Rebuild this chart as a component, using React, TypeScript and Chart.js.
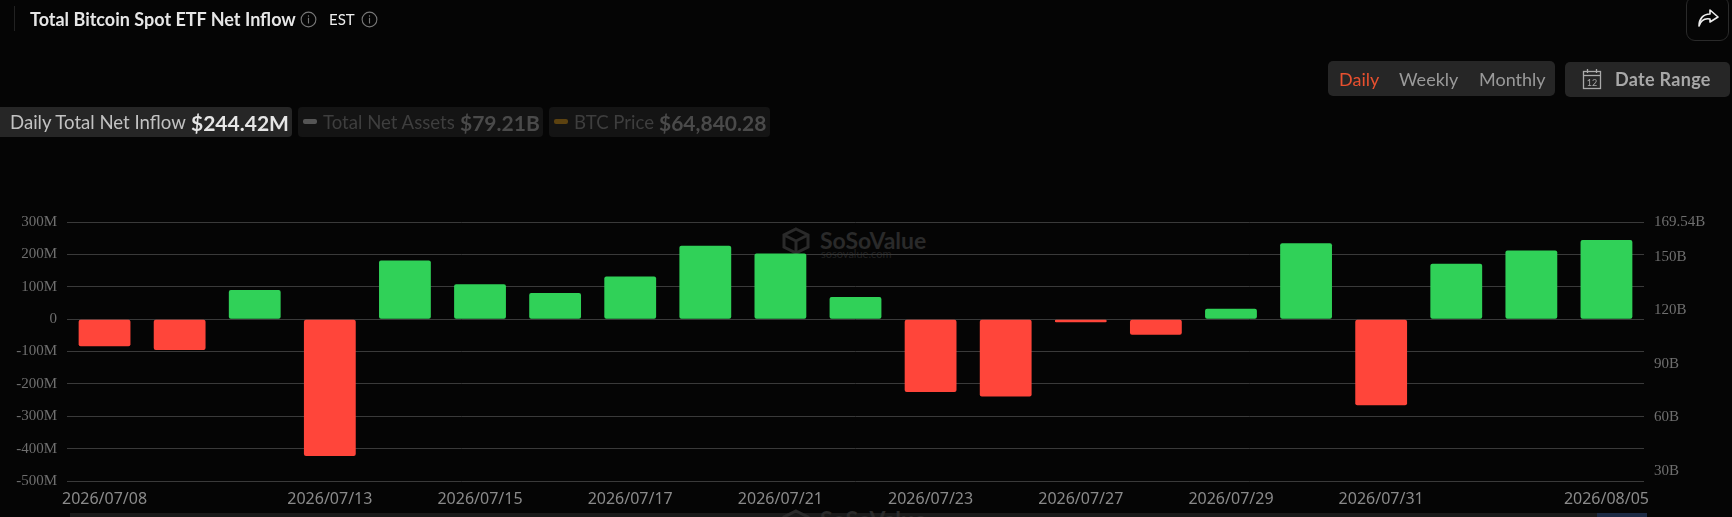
import React, { useEffect, useRef } from "react";
import { Chart, registerables } from "chart.js";

Chart.register(...registerables);

const categories = [
  "2026/07/08", "2026/07/09", "2026/07/10", "2026/07/13", "2026/07/14", "2026/07/15", "2026/07/16",
  "2026/07/17", "2026/07/20", "2026/07/21", "2026/07/22", "2026/07/23", "2026/07/24", "2026/07/27",
  "2026/07/28", "2026/07/29", "2026/07/30", "2026/07/31", "2026/08/03", "2026/08/04", "2026/08/05",
];
const netInflow = [-84, -95, 90, -423, 181, 108, 81, 132, 227, 203, 68, -225, -239, -10, -48, 32, 234, -266, 171, 212, 244.42];
const shownDates = [
  "2026/07/08", "2026/07/13", "2026/07/15", "2026/07/17", "2026/07/21",
  "2026/07/23", "2026/07/27", "2026/07/29", "2026/07/31", "2026/08/05",
];
const rightTicks = [30, 60, 90, 120, 150, 169.54];
const GREEN = "#30d158";
const RED = "#ff453a";

const abs = (s: React.CSSProperties): React.CSSProperties => ({ position: "absolute", whiteSpace: "nowrap", ...s });
const LATO = "Lato, sans-serif";

function Info({ x }: { x: number }) {
  return (
    <svg style={{ position: "absolute", left: x, top: 11 }} width="17" height="17" viewBox="0 0 15 15">
      <circle cx="7.5" cy="7.5" r="6.5" fill="none" stroke="#777" strokeWidth="1" />
      <rect x="7" y="6" width="1" height="5" fill="#777" />
      <rect x="7" y="3.8" width="1" height="1.2" fill="#777" />
    </svg>
  );
}

function Logo({ top }: { top: number }) {
  return (
    <svg style={{ position: "absolute", left: 782, top }} width="28" height="27" viewBox="0 0 28 27">
      <path d="M14 2 L26 8 V20 L14 26 L2 20 V8 Z M14 14 L2 8 M14 14 L26 8 M14 14 V26" fill="none" stroke="#2a2a2a" strokeWidth="3" />
    </svg>
  );
}

export default function App() {
  const ref = useRef<HTMLCanvasElement>(null);
  useEffect(() => {
    document.body.style.margin = "0";
    document.body.style.background = "#050505";
    const chart = new Chart(ref.current!, {
      type: "bar",
      data: {
        labels: categories,
        datasets: [
          {
            data: netInflow,
            backgroundColor: netInflow.map((v) => (v >= 0 ? GREEN : RED)),
            borderRadius: 2,
            borderSkipped: false,
            barPercentage: 0.69,
            categoryPercentage: 1,
            yAxisID: "y",
          },
        ],
      },
      options: {
        animation: false,
        responsive: false,
        devicePixelRatio: 1,
        layout: { padding: { top: 222, left: 0, right: 0, bottom: 0 } },
        plugins: { legend: { display: false }, tooltip: { enabled: false } },
        scales: {
          x: {
            afterFit: (s: any) => { s.height = 36; },
            grid: { display: false },
            border: { display: false },
            ticks: {
              autoSkip: false,
              maxRotation: 0,
              padding: 1,
              color: "#8a8a8a",
              font: { family: "'Noto Sans'", size: 16 },
              callback: function (this: any, _v: any, i: number) {
                const c = categories[i];
                return shownDates.includes(c) ? c : "";
              },
            },
          },
          y: {
            position: "left",
            min: -500,
            max: 300,
            afterFit: (s: any) => { s.width = 67; },
            grid: { color: "#3a3a3a", lineWidth: 1, drawTicks: false },
            border: { display: false },
            ticks: {
              stepSize: 100,
              padding: 10,
              color: "#6f6f6f",
              font: { family: "'Liberation Serif'", size: 15 },
              callback: (v: any) => (v === 0 ? "0" : `${v}M`),
            },
          },
          y1: {
            position: "right",
            min: 24.4,
            max: 169.54,
            afterFit: (s: any) => { s.width = 88; },
            afterBuildTicks: (s: any) => { s.ticks = rightTicks.map((value) => ({ value })); },
            grid: { display: false, drawTicks: false },
            border: { display: false },
            ticks: {
              padding: 10,
              color: "#6f6f6f",
              font: { family: "'Liberation Serif'", size: 15 },
              callback: (v: any) => `${v}B`,
            },
          },
        },
      },
    });
    return () => chart.destroy();
  }, []);

  return (
    <div style={{ position: "fixed", left: 0, top: 0, width: 1732, height: 517, background: "#050505", overflow: "hidden", fontFamily: LATO }}>
      {/* watermark */}
      <Logo top={227} />
      <div style={abs({ left: 820, top: 226, fontSize: 23, fontWeight: 700, color: "#2a2a2a" })}>SoSoValue</div>
      <div style={abs({ left: 821, top: 247, fontSize: 11, color: "#222" })}>sosovalue.com</div>

      {/* bottom zoom strip */}
      <div style={abs({ left: 70, top: 513, width: 1527, height: 4, background: "#1a1a1a" })} />
      <div style={abs({ left: 1597, top: 513, width: 50, height: 4, background: "#1c2a44" })} />
      <Logo top={509} />
      <div style={abs({ left: 820, top: 505, fontSize: 23, fontWeight: 700, color: "#2a2a2a" })}>SoSoValue</div>

      <canvas ref={ref} width={1732} height={517} style={{ position: "absolute", left: 0, top: 0, width: 1732, height: 517 }} />

      {/* title */}
      <div style={abs({ left: 14, top: 6, width: 1, height: 25, background: "#222" })} />
      <div style={abs({ left: 30, top: 8, fontSize: 18, fontWeight: 700, color: "#e6e6e6" })}>Total Bitcoin Spot ETF Net Inflow</div>
      <Info x={300} />
      <div style={abs({ left: 329, top: 10, fontSize: 15, color: "#eee" })}>EST</div>
      <Info x={361} />

      {/* share */}
      <div style={abs({ left: 1686, top: -4, width: 43, height: 45, border: "1px solid #2a2a2a", borderRadius: 9, boxSizing: "border-box" })} />
      <svg style={{ position: "absolute", left: 1697, top: 8 }} width="22" height="20" viewBox="0 0 22 20">
        <path d="M13 2 L21 9 L13 14 V11 C8 10 4 12 2 18 C2 11 6 6 13 6 Z" fill="none" stroke="#eee" strokeWidth="1.6" strokeLinejoin="round" />
      </svg>

      {/* period switch */}
      <div style={abs({ left: 1328, top: 61, width: 227, height: 35, background: "#262626", borderRadius: 5 })} />
      <div style={abs({ left: 1339, top: 68, fontSize: 18, color: "#e8502f" })}>Daily</div>
      <div style={abs({ left: 1399, top: 68, fontSize: 18, color: "#9a9a9a" })}>Weekly</div>
      <div style={abs({ left: 1479, top: 68, fontSize: 18, color: "#9a9a9a" })}>Monthly</div>

      {/* date range */}
      <div style={abs({ left: 1565, top: 62, width: 165, height: 35, background: "#262626", borderRadius: 5 })} />
      <svg style={{ position: "absolute", left: 1582, top: 68 }} width="20" height="22" viewBox="0 0 20 22">
        <rect x="1.5" y="3.5" width="17" height="17" fill="none" stroke="#aaa" strokeWidth="1.3" />
        <line x1="1.5" y1="7.5" x2="18.5" y2="7.5" stroke="#aaa" strokeWidth="1.3" />
        <line x1="5.5" y1="1" x2="5.5" y2="5" stroke="#aaa" strokeWidth="1.3" />
        <line x1="14.5" y1="1" x2="14.5" y2="5" stroke="#aaa" strokeWidth="1.3" />
        <text x="10" y="17.5" textAnchor="middle" fontSize="9" fill="#aaa" fontFamily="Lato">12</text>
      </svg>
      <div style={abs({ left: 1615, top: 68, fontSize: 18, fontWeight: 700, color: "#a8a8a8", letterSpacing: 0.3 })}>Date Range</div>

      {/* legend pills */}
      <div style={abs({ left: 0, top: 107, width: 292, height: 30, background: "#262626", borderRadius: "0 4px 4px 0" })} />
      <div style={abs({ left: 10, top: 111, fontSize: 18.6, color: "#c2c2c2" })}>Daily Total Net Inflow</div>
      <div style={abs({ left: 191, top: 110, fontSize: 21, fontWeight: 700, color: "#e6e6e6" })}>$244.42M</div>

      <div style={abs({ left: 298, top: 107, width: 245, height: 30, background: "#141414", borderRadius: 4 })} />
      <div style={abs({ left: 303, top: 119, width: 14, height: 5, background: "#555", borderRadius: 2 })} />
      <div style={abs({ left: 323, top: 111, fontSize: 18.6, color: "#3e3e3e" })}>Total Net Assets</div>
      <div style={abs({ left: 460, top: 110, fontSize: 21, fontWeight: 700, color: "#4a4a4a" })}>$79.21B</div>

      <div style={abs({ left: 549, top: 107, width: 221, height: 30, background: "#141414", borderRadius: 4 })} />
      <div style={abs({ left: 554, top: 119, width: 14, height: 5, background: "#5c4210", borderRadius: 2 })} />
      <div style={abs({ left: 574, top: 111, fontSize: 18.6, color: "#3e3e3e" })}>BTC Price</div>
      <div style={abs({ left: 659, top: 110, fontSize: 21, fontWeight: 700, color: "#4a4a4a" })}>$64,840.28</div>
    </div>
  );
}
